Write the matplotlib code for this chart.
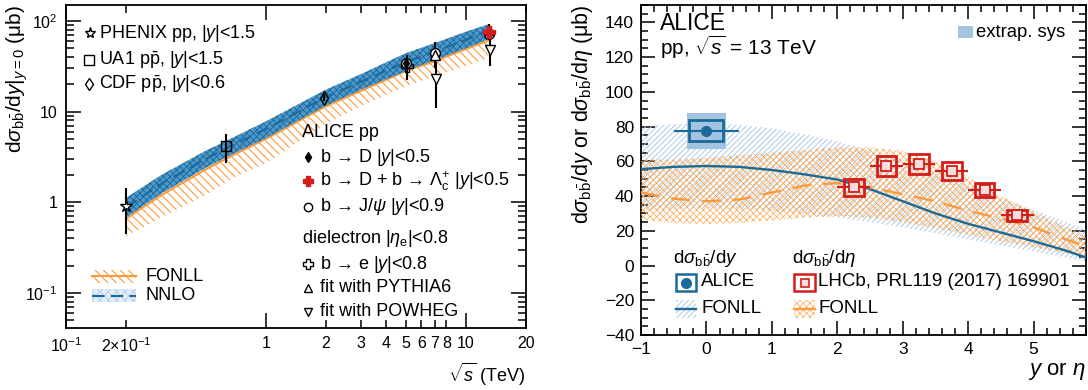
import numpy as np
import matplotlib.pyplot as plt
from matplotlib.patches import Rectangle
from matplotlib.ticker import FixedLocator, NullFormatter, MultipleLocator

plt.rcParams['font.family'] = ['Liberation Sans', 'DejaVu Sans']
plt.rcParams['mathtext.fontset'] = 'custom'
plt.rcParams['mathtext.rm'] = 'Liberation Sans'
plt.rcParams['mathtext.it'] = 'Liberation Sans:italic'
plt.rcParams['mathtext.bf'] = 'Liberation Sans:bold'
plt.rcParams['hatch.linewidth'] = 0.8

# ------------------ datos panel izquierdo (energia) ------------------
sqrt_s_band = [0.2, 0.3, 0.5, 0.7, 1, 2, 3, 5, 7, 10, 13]
nnlo_c = [0.88, 1.6, 3.0, 4.4, 6.4, 14.5, 21.5, 35, 46, 62, 78]
nnlo_lo = [0.68, 1.25, 2.4, 3.5, 5.1, 11.7, 17.5, 28, 37, 50, 63]
nnlo_hi = [1.12, 2.0, 3.7, 5.3, 7.8, 17.5, 26, 44, 57, 76, 92]
fonll_c = [0.66, 1.2, 2.3, 3.4, 5.0, 11.5, 17, 28, 36, 49, 61]
fonll_lo = [0.42, 0.68, 1.2, 1.9, 2.7, 7.4, 11.5, 19, 24.5, 32, 39]
fonll_hi = [1.1, 2.0, 3.7, 5.3, 7.8, 17.5, 26, 44, 57, 76, 90]

phenix_s, phenix_v, phenix_lo, phenix_hi = [0.2], [0.92], [0.47], [0.50]
ua1_s, ua1_v, ua1_lo, ua1_hi = [0.63], [4.2], [1.5], [1.5]
cdf_s, cdf_v, cdf_lo, cdf_hi = [1.96], [14.3], [1.3], [1.3]
bD_s, bD_v, bD_lo, bD_hi = [5.02], [34.5], [4.5], [5.0]
bDL_s, bDL_v, bDL_lo, bDL_hi = [13.0], [76], [7], [8]
jpsi_s, jpsi_v, jpsi_lo, jpsi_hi = [5.02, 7.0, 13.0], [34, 44, 71], [5, 6, 7], [5, 6, 7]
be_s, be_v, be_lo, be_hi = [5.1], [32], [9.5], [10]
pyth_s, pyth_v, pyth_lo, pyth_hi = [7.0, 13.0], [42, 79], [12, 14], [16, 14]
powh_s, powh_v, powh_lo, powh_hi = [7.1, 13.2], [23, 48], [12, 16], [12, 16]

x_tick_vals = [0.2, 1, 2, 3, 4, 5, 6, 7, 8, 10, 20]
x_tick_labels = [r'2$\times$10$^{-1}$', '1', '2', '3', '4', '5', '6', '7', '8', '10', '20']

# ------------------ datos panel derecho (rapidez) ------------------
y_grid = [-1, -0.5, 0, 0.5, 1, 1.5, 2, 2.5, 3, 3.5, 4, 4.5, 5, 5.5, 5.8]
fonll_y_c = [55.5, 56.8, 57.3, 56.8, 55, 52.5, 49.5, 44, 37, 30, 24, 19, 14, 8.5, 4.6]
fonll_y_lo = [32, 32.5, 33, 32.5, 31.5, 29.5, 27.5, 25, 22, 18.5, 15, 11.5, 8, 4.5, 2.3]
fonll_y_hi = [80, 81.5, 82, 81, 79, 75.5, 71.5, 66, 60, 53, 46, 39, 32, 25, 21]
fonll_eta_c = [42, 38.5, 37, 38, 42, 46, 47.5, 45, 41, 37, 31.5, 27, 22, 15, 11]
fonll_eta_lo = [26.5, 24.5, 24, 24.5, 26, 27.5, 28.5, 27.5, 25, 21.5, 17.5, 14, 10.5, 7, 5]
fonll_eta_hi = [61, 61, 62, 63.5, 65, 66.5, 68, 68, 66, 60, 51, 40, 31, 22, 17]

alice_y, alice_v, alice_sys, alice_ext = [0.0], [77.5], [6.0], [10.5]
lhcb_eta = [2.25, 2.75, 3.25, 3.75, 4.25, 4.75]
lhcb_v = [45, 57.5, 58.5, 54.5, 43.5, 29]
lhcb_sys = [4.9, 5.8, 5.8, 5.0, 4.3, 3.1]

BLUE = '#1c6a98'
ORANGE = '#ff9a3c'
RED = '#d41c1c'
LBLUE = '#9fc2e4'
LORANGE = '#ffa64d'

fig = plt.figure(figsize=(10.88, 3.9), dpi=100)


def estilo_root(ax, major=8.5, minor=4.5):
    ax.tick_params(which='both', direction='in', top=True, right=True, width=1.1)
    ax.tick_params(which='major', length=major)
    ax.tick_params(which='minor', length=minor)
    for s in ax.spines.values():
        s.set_linewidth(1.3)


def punto(ax, s, v, lo, hi, mk, ms, fc='none', ec='k', **kw):
    ax.errorbar(s, v, yerr=[lo, hi], fmt=mk, ms=ms, mfc=fc, mec=ec, ecolor=ec,
                elinewidth=1.5, capsize=0, mew=1.0, zorder=6, **kw)


# ======================= panel izquierdo =======================
ax1 = fig.add_axes([66/1088, 1-328/390, 460/1088, 323/390])
ax1.set_xscale('log')
ax1.set_yscale('log')
ax1.set_xlim(0.1, 20)
ax1.set_ylim(0.041, 150)

ax1.fill_between(sqrt_s_band, fonll_lo, fonll_hi, facecolor='none', edgecolor=ORANGE,
                 hatch='\\\\\\\\', linewidth=0, zorder=2)
ax1.plot(sqrt_s_band, fonll_c, color=ORANGE, lw=1.5, zorder=3)
plt.rcParams['hatch.linewidth'] = 0.6
ax1.fill_between(sqrt_s_band, nnlo_lo, nnlo_hi, facecolor='#4d99cb', edgecolor='#1d6797',
                 hatch='xxxxx', linewidth=0, zorder=4)
ax1.plot(sqrt_s_band, nnlo_c, color='#1a6aa0', lw=1.5, ls=(0, (6, 3)), zorder=5)

punto(ax1, phenix_s, phenix_v, phenix_lo, phenix_hi, '*', 9, fc='white')
punto(ax1, ua1_s, ua1_v, ua1_lo, ua1_hi, 's', 7)
punto(ax1, cdf_s, cdf_v, cdf_lo, cdf_hi, 'd', 7)
punto(ax1, be_s, be_v, be_lo, be_hi, 'P', 8)
punto(ax1, jpsi_s, jpsi_v, jpsi_lo, jpsi_hi, 'o', 7, fc='white')
punto(ax1, pyth_s, pyth_v, pyth_lo, pyth_hi, '^', 7, fc='white')
punto(ax1, powh_s, powh_v, powh_lo, powh_hi, 'v', 7, fc='white')
punto(ax1, bD_s, bD_v, bD_lo, bD_hi, 'd', 5, fc='k')
punto(ax1, bDL_s, bDL_v, bDL_lo, bDL_hi, 'P', 8, fc=RED, ec=RED)

ax1.xaxis.set_major_locator(FixedLocator([0.1, 1, 10]))
ax1.xaxis.set_minor_locator(FixedLocator([0.2, 0.3, 0.4, 0.5, 0.6, 0.7, 0.8, 0.9,
                                          2, 3, 4, 5, 6, 7, 8, 9, 20]))
ax1.xaxis.set_major_formatter(NullFormatter())
ax1.xaxis.set_minor_formatter(NullFormatter())
ax1.set_xticks([0.1, 1, 10], [r'10$^{-1}$', '1', '10'])
ax1.set_xticks(x_tick_vals, x_tick_labels, minor=True)
ax1.set_yticks([0.1, 1, 10, 100], [r'10$^{-1}$', '1', '10', r'10$^{2}$'])
estilo_root(ax1, major=11, minor=6)
ax1.tick_params(which='both', labelsize=11.5, pad=6)

ax1.set_xlabel(r'$\sqrt{s}$ (TeV)', fontsize=13, loc='right', labelpad=4)
ax1.set_ylabel(r'd$\sigma_{\rm b\bar{b}}$/d$y$$|_{y=0}$ (μb)', fontsize=15, loc='top')
ax1.yaxis.set_label_coords(-0.078, 1.0)

# leyenda arriba izquierda
fs = 13
def entrada(ax, x, y, texto, mk=None, ms=7, fc='none', ec='k', tx=None):
    if mk is not None:
        ax.plot([x], [y], marker=mk, ms=ms, mfc=fc, mec=ec, mew=1.0, ls='none',
                transform=ax.transAxes, clip_on=False, zorder=8)
    ax.text(tx if tx is not None else x + 0.022, y, texto, transform=ax.transAxes,
            fontsize=fs, va='center', ha='left', zorder=8)

entrada(ax1, 0.052, 0.913, r'PHENIX pp, $|y|$<1.5', '*', 8, fc='white', tx=0.072)
entrada(ax1, 0.050, 0.830, r'UA1 p$\bar{\rm p}$, $|y|$<1.5', 's', 7, tx=0.072)
entrada(ax1, 0.050, 0.755, r'CDF p$\bar{\rm p}$, $|y|$<0.6', 'd', 6, tx=0.072)

ax1.text(0.513, 0.604, 'ALICE pp', transform=ax1.transAxes, fontsize=fs, va='center')
entrada(ax1, 0.527, 0.529, r'b → D $|y|$<0.5', 'd', 5, fc='k', tx=0.552)
entrada(ax1, 0.527, 0.455, r'b → D + b → $\Lambda_{\rm c}^{+}$ $|y|$<0.5',
        'P', 7, fc=RED, ec=RED, tx=0.552)
entrada(ax1, 0.527, 0.375, r'b → J/$\psi$ $|y|$<0.9', 'o', 6, tx=0.552)
ax1.text(0.513, 0.276, r'dielectron $|\eta_{\rm e}|$<0.8', transform=ax1.transAxes,
         fontsize=fs, va='center')
entrada(ax1, 0.525, 0.198, r'b → e $|y|$<0.8', 'P', 7, tx=0.552)
entrada(ax1, 0.525, 0.124, 'fit with PYTHIA6', '^', 6, tx=0.552)
entrada(ax1, 0.525, 0.050, 'fit with POWHEG', 'v', 6, tx=0.552)

# leyenda abajo izquierda
plt.rcParams['hatch.linewidth'] = 0.8
ax1.add_patch(Rectangle((0.057, 0.139), 0.095, 0.041, transform=ax1.transAxes,
                        facecolor='none', edgecolor=ORANGE, hatch='\\\\\\\\', lw=0))
ax1.plot([0.057, 0.152], [0.16, 0.16], color=ORANGE, lw=1.5, transform=ax1.transAxes)
plt.rcParams['hatch.linewidth'] = 0.5
ax1.add_patch(Rectangle((0.057, 0.080), 0.095, 0.041, transform=ax1.transAxes,
                        facecolor='#e3eef8', edgecolor='#a9c8e4', hatch='xxxx', lw=0))
ax1.plot([0.057, 0.152], [0.10, 0.10], color='#1a6aa0', lw=1.5, ls=(0, (6, 3)),
         transform=ax1.transAxes)
ax1.text(0.172, 0.16, 'FONLL', transform=ax1.transAxes, fontsize=fs, va='center')
ax1.text(0.172, 0.10, 'NNLO', transform=ax1.transAxes, fontsize=fs, va='center')

# ======================= panel derecho =======================
ax2 = fig.add_axes([641/1088, 1-335/390, 445/1088, 330/390])
ax2.set_xlim(-1, 5.8)
ax2.set_ylim(-40, 150)

plt.rcParams['hatch.linewidth'] = 0.6
ax2.fill_between(y_grid, fonll_y_lo, fonll_y_hi, facecolor='none', edgecolor=LBLUE,
                 hatch='//////', linewidth=0, zorder=2)
plt.rcParams['hatch.linewidth'] = 0.5
ax2.fill_between(y_grid, fonll_eta_lo, fonll_eta_hi, facecolor='none', edgecolor=LORANGE,
                 hatch='xxxxx', linewidth=0, zorder=3)
ax2.plot(y_grid, fonll_y_c, color=BLUE, lw=1.7, zorder=4)
ax2.plot(y_grid, fonll_eta_c, color=ORANGE, lw=1.7, ls=(0, (8, 5)), zorder=4)

for yc, v, s, e in zip(alice_y, alice_v, alice_sys, alice_ext):
    ax2.add_patch(Rectangle((yc - 0.3, v - e), 0.6, 2 * e, facecolor='#a3c3e2',
                            edgecolor='none', zorder=5))
    ax2.add_patch(Rectangle((yc - 0.26, v - s), 0.52, 2 * s, facecolor='none',
                            edgecolor=BLUE, lw=2, zorder=6))
ax2.errorbar(alice_y, alice_v, xerr=0.5, yerr=1.5, fmt='o', ms=7, color=BLUE,
             elinewidth=1.5, capsize=0, zorder=7)

for e, v, s in zip(lhcb_eta, lhcb_v, lhcb_sys):
    ax2.add_patch(Rectangle((e - 0.15, v - s), 0.3, 2 * s, facecolor='none',
                            edgecolor=RED, lw=2, zorder=6))
ax2.errorbar(lhcb_eta, lhcb_v, xerr=0.25, yerr=1.0, fmt='s', ms=7, mfc='#f7dede',
             mec=RED, mew=1.3, ecolor=RED, elinewidth=1.5, capsize=0, zorder=7)

ax2.xaxis.set_major_locator(MultipleLocator(1))
ax2.xaxis.set_minor_locator(MultipleLocator(0.2))
ax2.yaxis.set_major_locator(MultipleLocator(20))
ax2.yaxis.set_minor_locator(MultipleLocator(5))
ax2.set_xticks([-1, 0, 1, 2, 3, 4, 5], ['−1', '0', '1', '2', '3', '4', '5'])
ax2.set_yticks(np.arange(-40, 141, 20),
               [str(v).replace('-', '−') for v in range(-40, 141, 20)])
estilo_root(ax2, major=10, minor=5)
ax2.tick_params(which='both', labelsize=12.5, pad=5)

ax2.set_xlabel(r'$y$ or $\eta$', fontsize=16, loc='right', labelpad=2)
ax2.set_ylabel(r'd$\sigma_{\rm b\bar{b}}$/d$y$ or d$\sigma_{\rm b\bar{b}}$/d$\eta$ (μb)',
               fontsize=15.5, loc='top')
ax2.yaxis.set_label_coords(-0.103, 1.0)

ax2.text(0.043, 0.945, 'ALICE', transform=ax2.transAxes, fontsize=16.5, va='center')
ax2.text(0.043, 0.872, r'pp, $\sqrt{s}$ = 13 TeV', transform=ax2.transAxes,
         fontsize=15, va='center')

ax2.add_patch(Rectangle((0.712, 0.900), 0.034, 0.036, transform=ax2.transAxes,
                        facecolor='#a3c3e2', edgecolor='none'))
ax2.text(0.753, 0.918, 'extrap. sys', transform=ax2.transAxes, fontsize=13.3, va='center')

fs2 = 13.5
ax2.text(0.072, 0.233, r'd$\sigma_{\rm b\bar{b}}$/d$y$', transform=ax2.transAxes,
         fontsize=fs2, va='center')
ax2.text(0.339, 0.233, r'd$\sigma_{\rm b\bar{b}}$/d$\eta$', transform=ax2.transAxes,
         fontsize=fs2, va='center')

ax2.add_patch(Rectangle((0.079, 0.133), 0.045, 0.052, transform=ax2.transAxes,
                        facecolor='none', edgecolor=BLUE, lw=1.8))
ax2.plot([0.1015], [0.159], 'o', ms=7, color=BLUE, transform=ax2.transAxes)
ax2.text(0.135, 0.161, 'ALICE', transform=ax2.transAxes, fontsize=fs2, va='center')

plt.rcParams['hatch.linewidth'] = 0.6
ax2.add_patch(Rectangle((0.079, 0.052), 0.045, 0.054, transform=ax2.transAxes,
                        facecolor='none', edgecolor=LBLUE, hatch='//////', lw=0))
ax2.plot([0.079, 0.124], [0.079, 0.079], color=BLUE, lw=1.7, transform=ax2.transAxes)
ax2.text(0.135, 0.079, 'FONLL', transform=ax2.transAxes, fontsize=fs2, va='center')

ax2.add_patch(Rectangle((0.344, 0.133), 0.047, 0.052, transform=ax2.transAxes,
                        facecolor='none', edgecolor=RED, lw=1.8))
ax2.plot([0.3675], [0.159], 's', ms=6, mfc='#f7dede', mec=RED, mew=1.2,
         transform=ax2.transAxes)
ax2.text(0.398, 0.161, 'LHCb, PRL119 (2017) 169901', transform=ax2.transAxes,
         fontsize=fs2, va='center')

plt.rcParams['hatch.linewidth'] = 0.5
ax2.add_patch(Rectangle((0.344, 0.052), 0.047, 0.054, transform=ax2.transAxes,
                        facecolor='none', edgecolor=LORANGE, hatch='xxxxx', lw=0))
ax2.plot([0.344, 0.391], [0.079, 0.079], color=ORANGE, lw=1.7, transform=ax2.transAxes)
ax2.text(0.398, 0.079, 'FONLL', transform=ax2.transAxes, fontsize=fs2, va='center')

fig.savefig('out.png', dpi=100)
